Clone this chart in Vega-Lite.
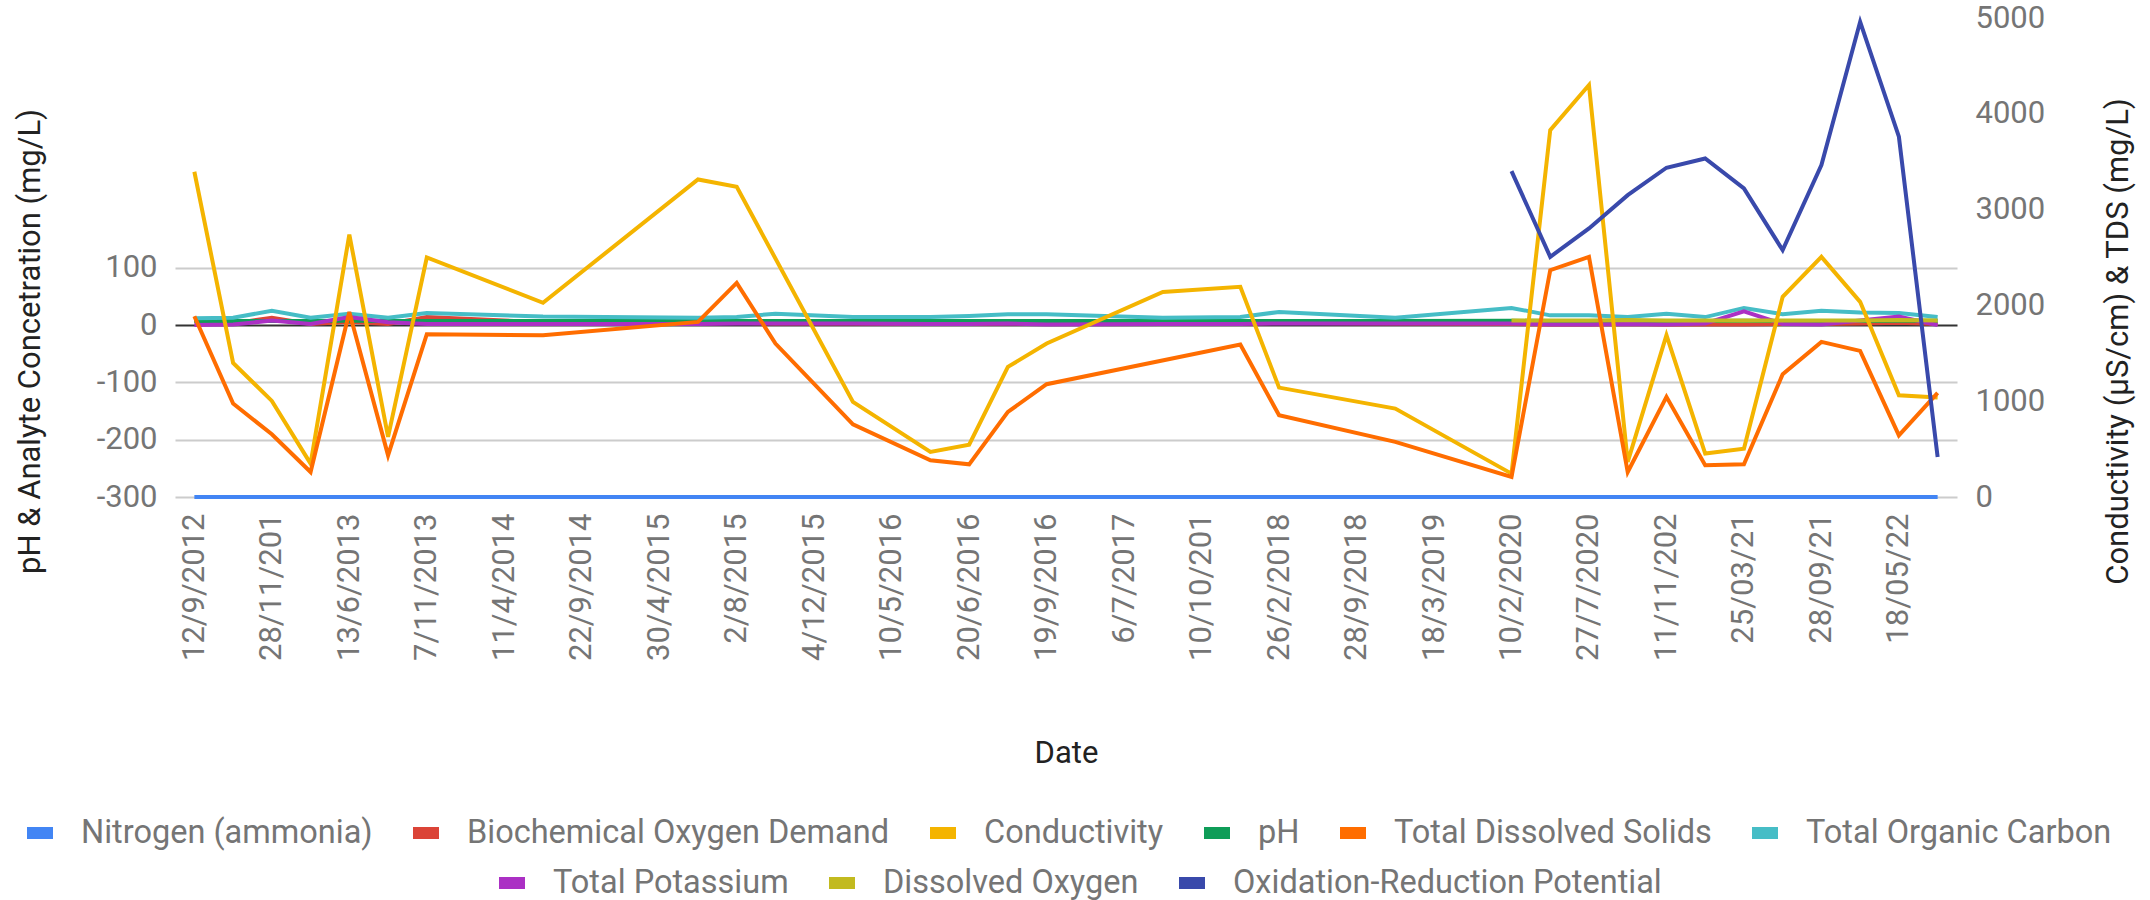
{
  "$schema": "https://vega.github.io/schema/vega-lite/v6.json",
  "width": 1782,
  "height": 479,
  "autosize": {"type": "none"},
  "padding": {"left": 175, "top": 18, "right": 193, "bottom": 403},
  "background": "white",
  "config": {
    "view": {"stroke": null},
    "font": "Roboto",
    "axis": {"labelFont": "Roboto", "titleFont": "Roboto", "labelFontSize": 31, "titleFontSize": 31, "labelColor": "#757575", "titleColor": "#222222", "titleFontWeight": "normal", "ticks": false, "domain": false},
    "legend": {"labelFont": "Roboto"}
  },
  "data": {
    "values": [
      {"Date": "12/9/2012", "Nitrogen (ammonia)": 0.5, "Biochemical Oxygen Demand": 8, "Conductivity": 3395, "pH": 7.2, "Total Dissolved Solids": 1887, "Total Organic Carbon": 12, "Total Potassium": 0},
      {"Date": "17/10/2012", "Nitrogen (ammonia)": 0.5, "Biochemical Oxygen Demand": 3, "Conductivity": 1400, "pH": 7.1, "Total Dissolved Solids": 975, "Total Organic Carbon": 13, "Total Potassium": 1},
      {"Date": "28/11/2012", "Nitrogen (ammonia)": 0.4, "Biochemical Oxygen Demand": 13, "Conductivity": 1003, "pH": 7.3, "Total Dissolved Solids": 655, "Total Organic Carbon": 25, "Total Potassium": 8},
      {"Date": "20/3/2013", "Nitrogen (ammonia)": 0.5, "Biochemical Oxygen Demand": 2, "Conductivity": 348, "pH": 7.0, "Total Dissolved Solids": 261, "Total Organic Carbon": 13, "Total Potassium": 2},
      {"Date": "13/6/2013", "Nitrogen (ammonia)": 0.6, "Biochemical Oxygen Demand": 6, "Conductivity": 2740, "pH": 7.4, "Total Dissolved Solids": 1932, "Total Organic Carbon": 20, "Total Potassium": 14},
      {"Date": "5/9/2013", "Nitrogen (ammonia)": 0.5, "Biochemical Oxygen Demand": 2, "Conductivity": 627, "pH": 7.1, "Total Dissolved Solids": 435, "Total Organic Carbon": 13, "Total Potassium": 5},
      {"Date": "7/11/2013", "Nitrogen (ammonia)": 0.5, "Biochemical Oxygen Demand": 14, "Conductivity": 2500, "pH": 7.2, "Total Dissolved Solids": 1699, "Total Organic Carbon": 21, "Total Potassium": 2},
      {"Date": "4/2/2014", "Nitrogen (ammonia)": 0.5},
      {"Date": "11/4/2014", "Nitrogen (ammonia)": 0.5},
      {"Date": "3/7/2014", "Nitrogen (ammonia)": 0.5, "Biochemical Oxygen Demand": 5, "Conductivity": 2027, "pH": 7.1, "Total Dissolved Solids": 1689, "Total Organic Carbon": 15, "Total Potassium": 2},
      {"Date": "22/9/2014", "Nitrogen (ammonia)": 0.5},
      {"Date": "15/1/2015", "Nitrogen (ammonia)": 0.5},
      {"Date": "30/4/2015", "Nitrogen (ammonia)": 0.5},
      {"Date": "18/6/2015", "Nitrogen (ammonia)": 0.5, "Biochemical Oxygen Demand": 3, "Conductivity": 3315, "pH": 7.2, "Total Dissolved Solids": 1828, "Total Organic Carbon": 13, "Total Potassium": 2},
      {"Date": "2/8/2015", "Nitrogen (ammonia)": 0.5, "Biochemical Oxygen Demand": 4, "Conductivity": 3238, "pH": 7.0, "Total Dissolved Solids": 2235, "Total Organic Carbon": 14, "Total Potassium": 3},
      {"Date": "13/10/2015", "Nitrogen (ammonia)": 0.5, "Biochemical Oxygen Demand": 3, "pH": 7.1, "Total Dissolved Solids": 1602, "Total Organic Carbon": 20, "Total Potassium": 3},
      {"Date": "4/12/2015", "Nitrogen (ammonia)": 0.5},
      {"Date": "23/2/2016", "Nitrogen (ammonia)": 0.5, "Biochemical Oxygen Demand": 3, "Conductivity": 992, "pH": 7.0, "Total Dissolved Solids": 759, "Total Organic Carbon": 14, "Total Potassium": 3},
      {"Date": "10/5/2016", "Nitrogen (ammonia)": 0.5},
      {"Date": "1/6/2016", "Nitrogen (ammonia)": 0.5, "Biochemical Oxygen Demand": 2, "Conductivity": 470, "pH": 7.2, "Total Dissolved Solids": 383, "Total Organic Carbon": 14, "Total Potassium": 2},
      {"Date": "20/6/2016", "Nitrogen (ammonia)": 0.5, "Biochemical Oxygen Demand": 2, "Conductivity": 547, "pH": 7.1, "Total Dissolved Solids": 341, "Total Organic Carbon": 16, "Total Potassium": 2},
      {"Date": "8/8/2016", "Nitrogen (ammonia)": 0.5, "Biochemical Oxygen Demand": 3, "Conductivity": 1358, "pH": 7.3, "Total Dissolved Solids": 888, "Total Organic Carbon": 19, "Total Potassium": 3},
      {"Date": "19/9/2016", "Nitrogen (ammonia)": 0.5, "Biochemical Oxygen Demand": 2, "Conductivity": 1602, "pH": 7.2, "Total Dissolved Solids": 1177, "Total Organic Carbon": 19, "Total Potassium": 1},
      {"Date": "15/2/2017", "Nitrogen (ammonia)": 0.5},
      {"Date": "6/7/2017", "Nitrogen (ammonia)": 0.5},
      {"Date": "24/8/2017", "Nitrogen (ammonia)": 0.5, "Biochemical Oxygen Demand": 3, "Conductivity": 2141, "pH": 7.1, "Total Organic Carbon": 13, "Total Potassium": 2},
      {"Date": "10/10/2017", "Nitrogen (ammonia)": 0.5},
      {"Date": "5/12/2017", "Nitrogen (ammonia)": 0.5, "Biochemical Oxygen Demand": 3, "Conductivity": 2194, "pH": 7.2, "Total Dissolved Solids": 1591, "Total Organic Carbon": 14, "Total Potassium": 2},
      {"Date": "26/2/2018", "Nitrogen (ammonia)": 0.5, "Biochemical Oxygen Demand": 4, "Conductivity": 1142, "pH": 7.3, "Total Dissolved Solids": 853, "Total Organic Carbon": 23, "Total Potassium": 3},
      {"Date": "12/6/2018", "Nitrogen (ammonia)": 0.5},
      {"Date": "28/9/2018", "Nitrogen (ammonia)": 0.5},
      {"Date": "10/12/2018", "Nitrogen (ammonia)": 0.5, "Biochemical Oxygen Demand": 3, "Conductivity": 923, "pH": 7.2, "Total Dissolved Solids": 575, "Total Organic Carbon": 13, "Total Potassium": 3},
      {"Date": "18/3/2019", "Nitrogen (ammonia)": 0.5},
      {"Date": "20/8/2019", "Nitrogen (ammonia)": 0.5},
      {"Date": "10/2/2020", "Nitrogen (ammonia)": 0.5, "Biochemical Oxygen Demand": 2, "Conductivity": 244, "pH": 7.5, "Total Dissolved Solids": 209, "Total Organic Carbon": 30, "Total Potassium": 3, "Dissolved Oxygen": 8, "Oxidation-Reduction Potential": 3402},
      {"Date": "4/5/2020", "Nitrogen (ammonia)": 0.5, "Biochemical Oxygen Demand": 1, "Conductivity": 3830, "pH": 7.2, "Total Dissolved Solids": 2368, "Total Organic Carbon": 17, "Total Potassium": 1, "Dissolved Oxygen": 8, "Oxidation-Reduction Potential": 2507},
      {"Date": "27/7/2020", "Nitrogen (ammonia)": 0.5, "Biochemical Oxygen Demand": 1, "Conductivity": 4300, "pH": 7.1, "Total Dissolved Solids": 2507, "Total Organic Carbon": 17, "Total Potassium": 1, "Dissolved Oxygen": 8, "Oxidation-Reduction Potential": 2803},
      {"Date": "15/9/2020", "Nitrogen (ammonia)": 0.5, "Biochemical Oxygen Demand": 2, "Conductivity": 366, "pH": 7.3, "Total Dissolved Solids": 261, "Total Organic Carbon": 14, "Total Potassium": 2, "Dissolved Oxygen": 9, "Oxidation-Reduction Potential": 3151},
      {"Date": "11/11/2020", "Nitrogen (ammonia)": 0.5, "Biochemical Oxygen Demand": 1, "Conductivity": 1689, "pH": 7.2, "Total Dissolved Solids": 1045, "Total Organic Carbon": 20, "Total Potassium": 1, "Dissolved Oxygen": 8, "Oxidation-Reduction Potential": 3437},
      {"Date": "20/01/21", "Nitrogen (ammonia)": 0.5, "Biochemical Oxygen Demand": 1, "Conductivity": 453, "pH": 7.1, "Total Dissolved Solids": 331, "Total Organic Carbon": 14, "Total Potassium": 3, "Dissolved Oxygen": 8, "Oxidation-Reduction Potential": 3534},
      {"Date": "25/03/21", "Nitrogen (ammonia)": 0.5, "Biochemical Oxygen Demand": 1, "Conductivity": 505, "pH": 7.4, "Total Dissolved Solids": 341, "Total Organic Carbon": 30, "Total Potassium": 24, "Dissolved Oxygen": 8, "Oxidation-Reduction Potential": 3221},
      {"Date": "29/06/21", "Nitrogen (ammonia)": 0.5, "Biochemical Oxygen Demand": 2, "Conductivity": 2089, "pH": 7.2, "Total Dissolved Solids": 1281, "Total Organic Carbon": 19, "Total Potassium": 2, "Dissolved Oxygen": 8, "Oxidation-Reduction Potential": 2577},
      {"Date": "28/09/21", "Nitrogen (ammonia)": 0.5, "Biochemical Oxygen Demand": 2, "Conductivity": 2507, "pH": 7.3, "Total Dissolved Solids": 1619, "Total Organic Carbon": 25, "Total Potassium": 1, "Dissolved Oxygen": 8, "Oxidation-Reduction Potential": 3465},
      {"Date": "15/02/22", "Nitrogen (ammonia)": 0.5, "Biochemical Oxygen Demand": 3, "Conductivity": 2037, "pH": 7.2, "Total Dissolved Solids": 1525, "Total Organic Carbon": 22, "Total Potassium": 8, "Dissolved Oxygen": 8, "Oxidation-Reduction Potential": 4960},
      {"Date": "18/05/22", "Nitrogen (ammonia)": 0.5, "Biochemical Oxygen Demand": 4, "Conductivity": 1062, "pH": 7.6, "Total Dissolved Solids": 644, "Total Organic Carbon": 21, "Total Potassium": 15, "Dissolved Oxygen": 9, "Oxidation-Reduction Potential": 3761},
      {"Date": "16/08/22", "Nitrogen (ammonia)": 0.5, "Biochemical Oxygen Demand": 2, "Conductivity": 1038, "pH": 7.4, "Total Dissolved Solids": 1086, "Total Organic Carbon": 14, "Total Potassium": 0, "Dissolved Oxygen": 8, "Oxidation-Reduction Potential": 418}
    ]
  },
  "transform": [
    {"fold": ["Nitrogen (ammonia)", "Biochemical Oxygen Demand", "Conductivity", "pH", "Total Dissolved Solids", "Total Organic Carbon", "Total Potassium", "Dissolved Oxygen", "Oxidation-Reduction Potential"], "as": ["series", "value"]},
    {"filter": "isValid(datum.value)"}
  ],
  "encoding": {
    "x": {
      "field": "Date",
      "type": "ordinal",
      "scale": {"type": "point", "padding": 0.5, "domain": ["12/9/2012", "17/10/2012", "28/11/2012", "20/3/2013", "13/6/2013", "5/9/2013", "7/11/2013", "4/2/2014", "11/4/2014", "3/7/2014", "22/9/2014", "15/1/2015", "30/4/2015", "18/6/2015", "2/8/2015", "13/10/2015", "4/12/2015", "23/2/2016", "10/5/2016", "1/6/2016", "20/6/2016", "8/8/2016", "19/9/2016", "15/2/2017", "6/7/2017", "24/8/2017", "10/10/2017", "5/12/2017", "26/2/2018", "12/6/2018", "28/9/2018", "10/12/2018", "18/3/2019", "20/8/2019", "10/2/2020", "4/5/2020", "27/7/2020", "15/9/2020", "11/11/2020", "20/01/21", "25/03/21", "29/06/21", "28/09/21", "15/02/22", "18/05/22", "16/08/22"]},
      "axis": {
        "title": "Date",
        "values": ["12/9/2012", "28/11/2012", "13/6/2013", "7/11/2013", "11/4/2014", "22/9/2014", "30/4/2015", "2/8/2015", "4/12/2015", "10/5/2016", "20/6/2016", "19/9/2016", "6/7/2017", "10/10/2017", "26/2/2018", "28/9/2018", "18/3/2019", "10/2/2020", "27/7/2020", "11/11/2020", "25/03/21", "28/09/21", "18/05/22"],
        "labelExpr": "length(datum.label) > 9 ? substring(datum.label, 0, 9) : datum.label",
        "labelAngle": -90,
        "labelPadding": 16,
        "labelOverlap": false,
        "grid": false,
        "titleY": 256,
        "titleBaseline": "middle"
      }
    },
    "order": {"value": null}
  },
  "layer": [
    {
      "encoding": {
        "y": {
          "field": "value",
          "type": "quantitative",
          "scale": {"domain": [-300, 536], "nice": false, "zero": false},
          "axis": {
            "orient": "left",
            "title": "pH & Analyte Concetration (mg/L)",
            "values": [-300, -200, -100, 0, 100],
            "labelExpr": "'' + datum.value",
            "grid": true,
            "gridColor": {"condition": {"test": "datum.value === 0", "value": "#333333"}, "value": "#cccccc"},
            "gridWidth": 2,
            "labelPadding": 18,
            "titleX": -145,
            "titleY": 323,
            "titleBaseline": "middle"
          }
        }
      },
      "layer": [
        {
          "transform": [{"filter": {"field": "series", "oneOf": ["Biochemical Oxygen Demand", "pH", "Total Organic Carbon"]}}],
          "mark": {"type": "line", "strokeWidth": 4},
          "encoding": {
            "color": {
              "field": "series", "type": "nominal",
              "scale": {"domain": ["Nitrogen (ammonia)", "Biochemical Oxygen Demand", "Conductivity", "pH", "Total Dissolved Solids", "Total Organic Carbon"], "range": ["#4285F4", "#DB4437", "#F4B400", "#0F9D58", "#FF6D00", "#46BDC6"]},
              "legend": {"title": null, "orient": "none", "legendX": -154, "legendY": 796, "direction": "horizontal", "symbolType": "stroke", "symbolSize": 676, "symbolStrokeWidth": 12, "labelFontSize": 32.5, "labelColor": "#757575", "labelLimit": 1000, "columnPadding": 16, "labelOffset": 22, "padding": 0}
            }
          }
        },
        {
          "transform": [{"filter": {"field": "series", "oneOf": ["Total Potassium", "Dissolved Oxygen"]}}],
          "mark": {"type": "line", "strokeWidth": 4},
          "encoding": {
            "stroke": {
              "field": "series", "type": "nominal",
              "scale": {"domain": ["Total Potassium", "Dissolved Oxygen", "Oxidation-Reduction Potential"], "range": ["#AB30C4", "#C2BA1F", "#3949AB"]},
              "legend": {"title": null, "orient": "none", "legendX": 318, "legendY": 846, "direction": "horizontal", "symbolType": "stroke", "symbolSize": 676, "symbolStrokeWidth": 12, "labelFontSize": 32.5, "labelColor": "#757575", "labelLimit": 1000, "columnPadding": 16, "labelOffset": 22, "padding": 0}
            }
          }
        }
      ]
    },
    {
      "encoding": {
        "y": {
          "field": "value",
          "type": "quantitative",
          "scale": {"domain": [0, 5000], "nice": false},
          "axis": {
            "orient": "right",
            "title": "Conductivity (µS/cm) & TDS (mg/L)",
            "values": [0, 1000, 2000, 3000, 4000, 5000],
            "format": "d",
            "grid": false,
            "labelPadding": 18,
            "titleAngle": -90,
            "titleX": 161,
            "titleY": 323,
            "titleBaseline": "middle"
          }
        }
      },
      "layer": [
        {
          "transform": [{"filter": {"field": "series", "oneOf": ["Nitrogen (ammonia)", "Conductivity", "Total Dissolved Solids"]}}],
          "mark": {"type": "line", "strokeWidth": 4},
          "encoding": {
            "color": {
              "field": "series", "type": "nominal",
              "scale": {"domain": ["Nitrogen (ammonia)", "Biochemical Oxygen Demand", "Conductivity", "pH", "Total Dissolved Solids", "Total Organic Carbon"], "range": ["#4285F4", "#DB4437", "#F4B400", "#0F9D58", "#FF6D00", "#46BDC6"]},
              "legend": {"title": null, "orient": "none", "legendX": -154, "legendY": 796, "direction": "horizontal", "symbolType": "stroke", "symbolSize": 676, "symbolStrokeWidth": 12, "labelFontSize": 32.5, "labelColor": "#757575", "labelLimit": 1000, "columnPadding": 16, "labelOffset": 22, "padding": 0}
            }
          }
        },
        {
          "transform": [{"filter": {"field": "series", "oneOf": ["Oxidation-Reduction Potential"]}}],
          "mark": {"type": "line", "strokeWidth": 4},
          "encoding": {
            "stroke": {
              "field": "series", "type": "nominal",
              "scale": {"domain": ["Total Potassium", "Dissolved Oxygen", "Oxidation-Reduction Potential"], "range": ["#AB30C4", "#C2BA1F", "#3949AB"]},
              "legend": {"title": null, "orient": "none", "legendX": 318, "legendY": 846, "direction": "horizontal", "symbolType": "stroke", "symbolSize": 676, "symbolStrokeWidth": 12, "labelFontSize": 32.5, "labelColor": "#757575", "labelLimit": 1000, "columnPadding": 16, "labelOffset": 22, "padding": 0}
            }
          }
        }
      ]
    }
  ],
  "resolve": {"scale": {"y": "independent", "color": "shared", "stroke": "shared"}, "axis": {"y": "independent"}}
}
